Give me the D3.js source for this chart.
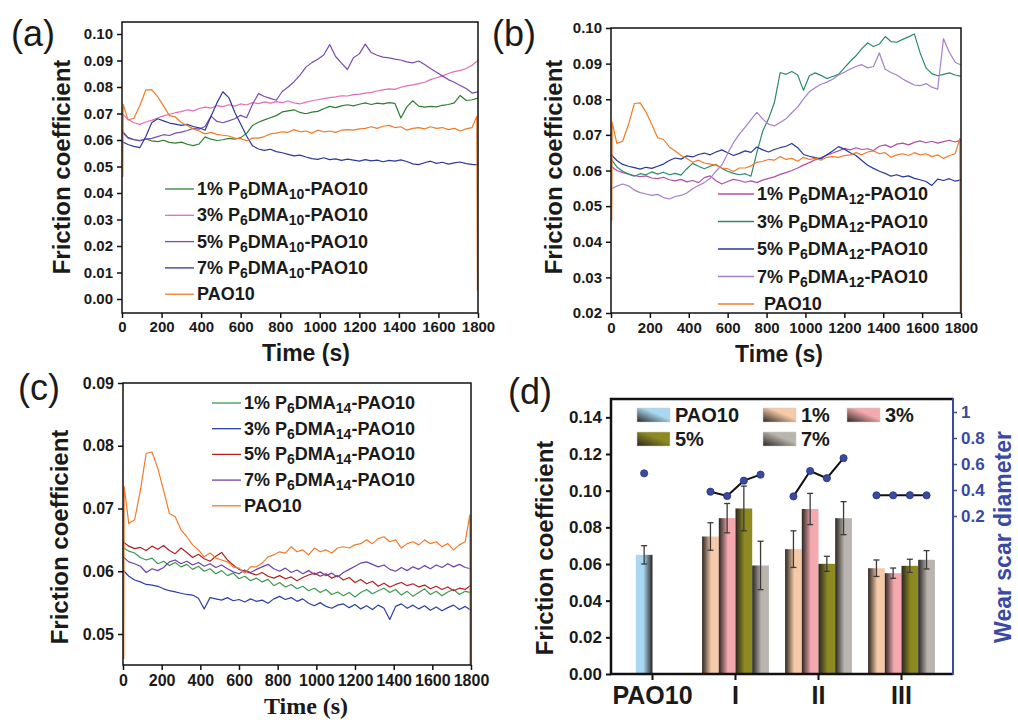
<!DOCTYPE html>
<html lang="en">
<head>
<meta charset="utf-8">
<title>Friction coefficient panels</title>
<script src="https://cdn.jsdelivr.net/npm/d3@7"></script>
<style>
    body { margin: 0; background: #fff; }
    svg { font-family: "Liberation Sans", Arial, sans-serif; }
</style>
</head>
<body>
<svg width="1018" height="722"></svg>
<script>
// ---- data ----
var t30 = [0,30,60,90,120,150,180,210,240,270,300,330,360,390,420,450,480,510,540,570,600,630,660,690,720,750,780,810,840,870,900,930,960,990,1020,1050,1080,1110,1140,1170,1200,1230,1260,1290,1320,1350,1380,1410,1440,1470,1500,1530,1560,1590,1620,1650,1680,1710,1740,1770,1800];
var tPao = [4,6,30,60,90,120,150,180,210,240,270,300,330,360,390,420,450,480,510,540,570,600,630,660,690,720,750,780,810,840,870,900,930,960,990,1020,1050,1080,1110,1140,1170,1200,1230,1260,1290,1320,1350,1380,1410,1440,1470,1500,1530,1560,1590,1620,1650,1680,1710,1740,1770,1794,1797];
var timeTicks = [0,200,400,600,800,1000,1200,1400,1600,1800];

var pao10 = [0.046,0.0735,0.0676,0.0682,0.0729,0.0788,0.0790,0.0764,0.0729,0.0692,0.0687,0.0666,0.0655,0.0642,0.0634,0.0623,0.0629,0.0621,0.0618,0.0615,0.0607,0.0605,0.0597,0.0607,0.0607,0.0613,0.0623,0.0626,0.0631,0.0629,0.0639,0.0631,0.0634,0.0626,0.0637,0.0631,0.0634,0.0629,0.0637,0.0639,0.0637,0.0642,0.0644,0.0650,0.0644,0.0652,0.0655,0.0647,0.0650,0.0637,0.0644,0.0647,0.0642,0.0650,0.0644,0.0647,0.0639,0.0644,0.0634,0.0642,0.0647,0.0690,0.003];

var dma10_1 = [0.0635,0.0610,0.0602,0.0598,0.0604,0.0597,0.0594,0.0599,0.0591,0.0588,0.0592,0.0584,0.0579,0.0585,0.0612,0.0603,0.0598,0.0601,0.0606,0.0603,0.0609,0.0625,0.0655,0.0667,0.0676,0.0684,0.0692,0.0706,0.0710,0.0714,0.0704,0.0699,0.0705,0.0708,0.0718,0.0727,0.0722,0.0729,0.0733,0.0729,0.0735,0.0740,0.0734,0.0739,0.0736,0.0741,0.0738,0.0683,0.0725,0.0748,0.0728,0.0724,0.0727,0.0725,0.0731,0.0734,0.0740,0.0768,0.0749,0.0752,0.0758];
var dma10_3 = [0.0700,0.0678,0.0665,0.0659,0.0668,0.0674,0.0683,0.0691,0.0697,0.0703,0.0707,0.0714,0.0710,0.0719,0.0724,0.0720,0.0730,0.0726,0.0733,0.0728,0.0736,0.0732,0.0741,0.0737,0.0744,0.0739,0.0745,0.0741,0.0747,0.0740,0.0736,0.0743,0.0748,0.0752,0.0756,0.0760,0.0763,0.0767,0.0766,0.0771,0.0773,0.0777,0.0780,0.0785,0.0789,0.0793,0.0791,0.0799,0.0804,0.0808,0.0813,0.0818,0.0828,0.0835,0.0842,0.0851,0.0858,0.0863,0.0870,0.0882,0.0900];
var dma10_5 = [0.0631,0.0607,0.0601,0.0597,0.0603,0.0606,0.0613,0.0620,0.0617,0.0626,0.0630,0.0636,0.0644,0.0641,0.0651,0.0690,0.0670,0.0665,0.0672,0.0680,0.0693,0.0684,0.0735,0.0775,0.0764,0.0757,0.0750,0.0783,0.0800,0.0820,0.0845,0.0875,0.0892,0.0905,0.0921,0.0960,0.0915,0.0890,0.0866,0.0910,0.0925,0.0962,0.0930,0.0920,0.0913,0.0910,0.0905,0.0902,0.0895,0.0891,0.0898,0.0885,0.0870,0.0856,0.0842,0.0828,0.0818,0.0806,0.0794,0.0777,0.0782];
var dma10_7 = [0.0594,0.0583,0.0576,0.0571,0.0612,0.0665,0.0680,0.0672,0.0664,0.0660,0.0655,0.0659,0.0651,0.0646,0.0637,0.0690,0.0740,0.0782,0.0760,0.0705,0.0660,0.0615,0.0578,0.0566,0.0561,0.0565,0.0556,0.0552,0.0546,0.0540,0.0543,0.0536,0.0530,0.0527,0.0533,0.0526,0.0529,0.0523,0.0528,0.0524,0.0520,0.0526,0.0521,0.0524,0.0518,0.0523,0.0520,0.0525,0.0519,0.0510,0.0507,0.0514,0.0520,0.0512,0.0516,0.0509,0.0514,0.0517,0.0511,0.0508,0.0506];

var dma12_1 = [0.0612,0.0600,0.0594,0.0590,0.0586,0.0583,0.0585,0.0579,0.0577,0.0581,0.0574,0.0571,0.0575,0.0568,0.0572,0.0566,0.0580,0.0585,0.0571,0.0562,0.0569,0.0575,0.0572,0.0567,0.0571,0.0566,0.0573,0.0578,0.0582,0.0589,0.0594,0.0600,0.0607,0.0615,0.0622,0.0630,0.0636,0.0643,0.0649,0.0655,0.0662,0.0658,0.0664,0.0659,0.0661,0.0656,0.0668,0.0672,0.0665,0.0674,0.0677,0.0672,0.0679,0.0683,0.0678,0.0682,0.0677,0.0681,0.0685,0.0680,0.0686];
var dma12_3 = [0.0632,0.0610,0.0598,0.0590,0.0584,0.0591,0.0588,0.0596,0.0590,0.0595,0.0588,0.0592,0.0587,0.0605,0.0620,0.0612,0.0605,0.0612,0.0617,0.0606,0.0598,0.0592,0.0588,0.0591,0.0584,0.0650,0.0710,0.0745,0.0790,0.0875,0.0870,0.0878,0.0868,0.0825,0.0866,0.0874,0.0867,0.0858,0.0864,0.0870,0.0888,0.0906,0.0922,0.0942,0.0958,0.0948,0.0955,0.0976,0.0962,0.0960,0.0968,0.0975,0.0983,0.0930,0.0888,0.0872,0.0866,0.0870,0.0874,0.0868,0.0864];
var dma12_5 = [0.0645,0.0628,0.0617,0.0612,0.0608,0.0604,0.0609,0.0606,0.0612,0.0618,0.0628,0.0635,0.0632,0.0641,0.0638,0.0645,0.0649,0.0644,0.0652,0.0658,0.0650,0.0642,0.0648,0.0655,0.0651,0.0666,0.0658,0.0652,0.0659,0.0664,0.0668,0.0676,0.0664,0.0645,0.0640,0.0636,0.0633,0.0644,0.0655,0.0667,0.0660,0.0650,0.0642,0.0628,0.0615,0.0606,0.0598,0.0592,0.0584,0.0588,0.0582,0.0585,0.0578,0.0574,0.0569,0.0558,0.0576,0.0572,0.0577,0.0570,0.0574];
var dma12_7 = [0.0548,0.0556,0.0562,0.0557,0.0545,0.0538,0.0534,0.0530,0.0533,0.0524,0.0520,0.0527,0.0530,0.0537,0.0549,0.0558,0.0566,0.0578,0.0598,0.0615,0.0648,0.0678,0.0702,0.0722,0.0743,0.0763,0.0745,0.0730,0.0725,0.0735,0.0745,0.0762,0.0778,0.0801,0.0821,0.0832,0.0842,0.0848,0.0856,0.0868,0.0876,0.0885,0.0892,0.0897,0.0888,0.0892,0.0930,0.0884,0.0875,0.0868,0.0857,0.0848,0.0840,0.0838,0.0844,0.0834,0.0828,0.0970,0.0932,0.0904,0.0896];

var dma14_1 = [0.0638,0.0632,0.0629,0.0622,0.0618,0.0621,0.0612,0.0616,0.0609,0.0614,0.0607,0.0611,0.0603,0.0608,0.0600,0.0604,0.0596,0.0601,0.0593,0.0597,0.0588,0.0592,0.0585,0.0589,0.0583,0.0587,0.0577,0.0582,0.0575,0.0579,0.0572,0.0576,0.0569,0.0573,0.0566,0.0571,0.0563,0.0567,0.0561,0.0566,0.0559,0.0566,0.0571,0.0564,0.0569,0.0573,0.0566,0.0571,0.0562,0.0568,0.0560,0.0566,0.0572,0.0563,0.0568,0.0561,0.0567,0.0571,0.0563,0.0568,0.0566];
var dma14_3 = [0.0602,0.0592,0.0586,0.0583,0.0579,0.0578,0.0576,0.0572,0.0569,0.0567,0.0565,0.0563,0.0562,0.0557,0.0540,0.0558,0.0556,0.0554,0.0558,0.0553,0.0555,0.0551,0.0556,0.0552,0.0554,0.0549,0.0556,0.0560,0.0555,0.0558,0.0552,0.0556,0.0549,0.0545,0.0550,0.0544,0.0541,0.0546,0.0548,0.0542,0.0547,0.0540,0.0545,0.0539,0.0546,0.0541,0.0523,0.0544,0.0548,0.0541,0.0546,0.0540,0.0545,0.0538,0.0543,0.0537,0.0542,0.0546,0.0539,0.0544,0.0538];
var dma14_5 = [0.0647,0.0640,0.0636,0.0638,0.0633,0.0640,0.0635,0.0641,0.0633,0.0628,0.0637,0.0630,0.0622,0.0627,0.0620,0.0616,0.0624,0.0630,0.0618,0.0610,0.0603,0.0600,0.0597,0.0594,0.0598,0.0592,0.0589,0.0593,0.0588,0.0591,0.0585,0.0590,0.0594,0.0597,0.0592,0.0596,0.0589,0.0593,0.0586,0.0590,0.0582,0.0587,0.0580,0.0584,0.0576,0.0581,0.0575,0.0579,0.0582,0.0577,0.0580,0.0575,0.0578,0.0572,0.0576,0.0571,0.0575,0.0569,0.0573,0.0571,0.0578];
var dma14_7 = [0.0623,0.0615,0.0612,0.0608,0.0598,0.0604,0.0601,0.0606,0.0615,0.0618,0.0612,0.0616,0.0610,0.0614,0.0608,0.0612,0.0606,0.0610,0.0604,0.0599,0.0596,0.0602,0.0598,0.0603,0.0607,0.0611,0.0604,0.0600,0.0605,0.0598,0.0602,0.0596,0.0601,0.0595,0.0599,0.0593,0.0597,0.0591,0.0598,0.0603,0.0608,0.0613,0.0615,0.0611,0.0607,0.0610,0.0603,0.0600,0.0606,0.0601,0.0607,0.0603,0.0609,0.0604,0.0610,0.0606,0.0612,0.0607,0.0611,0.0606,0.0604];

// panel (d)
var groups = ["PAO10", "I", "II", "III"];
var concs = ["1%", "3%", "5%", "7%"];
var paoFriction = 0.065, paoError = 0.005, paoWear = 0.528;
var frictionI   = [0.075, 0.085, 0.0903, 0.0592];
var errorI      = [0.0075, 0.008, 0.0122, 0.0132];
var frictionII  = [0.0681, 0.090, 0.0601, 0.085];
var errorII     = [0.010, 0.0085, 0.0041, 0.009];
var frictionIII = [0.0577, 0.055, 0.059, 0.0623];
var errorIII    = [0.0045, 0.0028, 0.0036, 0.005];
var wearI   = [0.387, 0.354, 0.472, 0.518];
var wearII  = [0.351, 0.546, 0.491, 0.645];
var wearIII = [0.359, 0.359, 0.360, 0.359];
var frictionTicks = [0, 0.02, 0.04, 0.06, 0.08, 0.10, 0.12, 0.14];
var wearTicks = [0.2, 0.4, 0.6, 0.8, 1];

// ---- drawing ----
var svg = d3.select("svg");
var defs = svg.append("defs");

function subLabel(text, conc, sub) {
    if (!conc) { text.text("PAO10"); return; }
    text.append("tspan").text(conc + " P");
    text.append("tspan").attr("font-size", 14).attr("dy", 4).text("6");
    text.append("tspan").attr("dy", -4).text("DMA");
    text.append("tspan").attr("font-size", 14).attr("dy", 4).text(sub);
    text.append("tspan").attr("dy", -4).text("-PAO10");
}

function linePanel(p) {
    var x = d3.scaleLinear().domain([0, 1800]).range([p.x0, p.x1]);
    var y = d3.scaleLinear().domain(p.yDomain).range(p.yRange);
    var g = svg.append("g");

    defs.append("clipPath").attr("id", "clip-" + p.id)
        .append("rect").attr("x", p.x0).attr("y", p.y0)
        .attr("width", p.x1 - p.x0).attr("height", p.y1 - p.y0);

    var line = d3.line().x(function (d) { return x(d[0]); }).y(function (d) { return y(d[1]); });
    p.series.forEach(function (s) {
        g.append("path")
            .datum(d3.zip(s.t, s.v))
            .attr("clip-path", "url(#clip-" + p.id + ")")
            .attr("d", line)
            .attr("fill", "none")
            .attr("stroke", s.color)
            .attr("stroke-width", 1.2)
            .attr("stroke-linejoin", "round");
    });

    g.append("rect")
        .attr("x", p.x0).attr("y", p.y0)
        .attr("width", p.x1 - p.x0).attr("height", p.y1 - p.y0)
        .attr("fill", "none").attr("stroke", "#111").attr("stroke-width", 1.5);

    var xa = g.append("g").attr("transform", "translate(0," + p.y1 + ")")
        .call(d3.axisBottom(x).tickValues(timeTicks).tickSize(5).tickPadding(p.xPad).tickFormat(d3.format("d")));
    var ya = g.append("g").attr("transform", "translate(" + p.x0 + ",0)")
        .call(d3.axisLeft(y).tickValues(p.yTicks).tickSize(5).tickPadding(4).tickFormat(d3.format(".2f")));
    [xa, ya].forEach(function (a) {
        a.select(".domain").remove();
        a.selectAll("line").attr("stroke", "#111").attr("stroke-width", 1.5);
        a.selectAll("text").attr("font-size", p.tickFont).attr("font-weight", "bold").attr("fill", "#1a1a1a")
            .attr("font-family", "'Liberation Sans', Arial, sans-serif");
    });

    // legend
    p.legend.forEach(function (e, i) {
        var yy = p.legY + i * p.legStep;
        g.append("line").attr("x1", p.legX0).attr("x2", p.legX1).attr("y1", yy).attr("y2", yy)
            .attr("stroke", e.color).attr("stroke-width", 1.3);
        var t = g.append("text").attr("x", e.conc ? p.legTX : p.legTX + (p.paoIndent || 0)).attr("y", yy + 6)
            .attr("font-size", 18).attr("font-weight", "bold").attr("fill", "#1a1a1a");
        subLabel(t, e.conc, p.sub);
    });

    // axis titles and panel letter
    g.append("text").attr("transform", "translate(" + p.yTitleX + "," + p.yTitleY + ") rotate(-90)")
        .attr("text-anchor", "middle").attr("font-size", 24).attr("font-weight", "bold").attr("fill", "#1a1a1a")
        .text("Friction coefficient");
    g.append("text").attr("x", p.xTitleX).attr("y", p.xTitleY)
        .attr("text-anchor", "middle").attr("font-size", p.xTitleFont).attr("font-weight", "bold").attr("fill", "#1a1a1a")
        .attr("font-family", p.xTitleFamily)
        .text("Time (s)");
    g.append("text").attr("x", p.letterX).attr("y", p.letterY)
        .attr("font-size", 36).attr("fill", "#1a1a1a").text(p.letter);
}

var orange = "#f07c2a";

linePanel({
    id: "a", letter: "(a)", letterX: 11, letterY: 46,
    x0: 122, x1: 478, y0: 22, y1: 313,
    yDomain: [0, 0.10], yRange: [299, 34], yTicks: [0,0.01,0.02,0.03,0.04,0.05,0.06,0.07,0.08,0.09,0.10],
    tickFont: 15, xPad: 3,
    series: [
        { t: t30, v: dma10_1, color: "#2f7d32" },
        { t: t30, v: dma10_3, color: "#e46cb6" },
        { t: t30, v: dma10_5, color: "#7b4caf" },
        { t: t30, v: dma10_7, color: "#2d3a9c" },
        { t: tPao, v: pao10, color: orange }
    ],
    sub: "10",
    legend: [
        { conc: "1%", color: "#2f7d32" }, { conc: "3%", color: "#e46cb6" },
        { conc: "5%", color: "#7b4caf" }, { conc: "7%", color: "#2d3a9c" }, { conc: null, color: orange }
    ],
    legX0: 165, legX1: 194, legTX: 197, legY: 189, legStep: 26.3,
    yTitleX: 70, yTitleY: 167, xTitleX: 306, xTitleY: 361, xTitleFont: 23,
    xTitleFamily: "'Liberation Sans', Arial, sans-serif"
});

linePanel({
    id: "b", letter: "(b)", letterX: 492, letterY: 46,
    x0: 611, x1: 961, y0: 28, y1: 313,
    yDomain: [0.02, 0.10], yRange: [313, 28], yTicks: [0.02,0.03,0.04,0.05,0.06,0.07,0.08,0.09,0.10],
    tickFont: 15, xPad: 4,
    series: [
        { t: t30, v: dma12_1, color: "#b14fa6" },
        { t: t30, v: dma12_3, color: "#2b8a6e" },
        { t: t30, v: dma12_5, color: "#27389a" },
        { t: t30, v: dma12_7, color: "#a47fce" },
        { t: tPao, v: pao10, color: orange }
    ],
    sub: "12",
    legend: [
        { conc: "1%", color: "#b14fa6" }, { conc: "3%", color: "#2b8a6e" },
        { conc: "5%", color: "#27389a" }, { conc: "7%", color: "#a47fce" }, { conc: null, color: orange }
    ],
    paoIndent: 7,
    legX0: 718, legX1: 754, legTX: 757, legY: 194, legStep: 27.5,
    yTitleX: 562, yTitleY: 167, xTitleX: 779, xTitleY: 362, xTitleFont: 23,
    xTitleFamily: "'Liberation Sans', Arial, sans-serif"
});

linePanel({
    id: "c", letter: "(c)", letterX: 18, letterY: 400,
    x0: 123, x1: 471, y0: 383, y1: 665,
    yDomain: [0.05, 0.09], yRange: [634, 383], yTicks: [0.05,0.06,0.07,0.08,0.09],
    tickFont: 16, xPad: 5,
    series: [
        { t: t30, v: dma14_1, color: "#3a9a52" },
        { t: t30, v: dma14_3, color: "#2d40a2" },
        { t: t30, v: dma14_5, color: "#b22222" },
        { t: t30, v: dma14_7, color: "#6f42aa" },
        { t: tPao, v: pao10, color: orange }
    ],
    sub: "14",
    legend: [
        { conc: "1%", color: "#3a9a52" }, { conc: "3%", color: "#2d40a2" },
        { conc: "5%", color: "#b22222" }, { conc: "7%", color: "#6f42aa" }, { conc: null, color: orange }
    ],
    legX0: 212, legX1: 241, legTX: 244, legY: 403, legStep: 25.7,
    yTitleX: 68, yTitleY: 537, xTitleX: 306, xTitleY: 714, xTitleFont: 24,
    xTitleFamily: "'Liberation Serif', 'Times New Roman', serif"
});

// ---- panel (d) ----
(function () {
    var L = 611, R = 953, T = 399, B = 674;
    var navy = "#3a4aa2";
    var x = d3.scaleBand().domain(groups).range([L, 943]);
    var xs = d3.scaleBand().domain(concs).range([-33.4, 33.4]);
    var y = d3.scaleLinear().domain([0, 0.15]).range([B, T]);
    var yR = d3.scaleLinear().domain([0, 1]).range([542, 412]);
    var g = svg.append("g");
    var fills = { "PAO10": "#a9d9f2", "1%": "#f6caa8", "3%": "#f4a9af", "5%": "#8e8a22", "7%": "#bab4ae" };

    Object.keys(fills).forEach(function (k, i) {
        var gr = defs.append("linearGradient").attr("id", "grad" + i).attr("x1", 0).attr("x2", 1).attr("y1", 0).attr("y2", 0);
        gr.append("stop").attr("offset", 0).attr("stop-color", "#2a2522");
        gr.append("stop").attr("offset", 0.55).attr("stop-color", fills[k]);
        gr.append("stop").attr("offset", 1).attr("stop-color", fills[k]);
        var gd = defs.append("linearGradient").attr("id", "gradR" + i).attr("x1", 0).attr("x2", 1).attr("y1", 0).attr("y2", 0);
        gd.append("stop").attr("offset", 0).attr("stop-color", fills[k]);
        gd.append("stop").attr("offset", 0.45).attr("stop-color", fills[k]);
        gd.append("stop").attr("offset", 1).attr("stop-color", "#2a2522");
        var gs = defs.append("linearGradient").attr("id", "gradS" + i).attr("x1", 0).attr("x2", 1).attr("y1", 1).attr("y2", 0);
        gs.append("stop").attr("offset", 0).attr("stop-color", "#2a2522");
        gs.append("stop").attr("offset", 0.6).attr("stop-color", fills[k]);
        gs.append("stop").attr("offset", 1).attr("stop-color", fills[k]);
    });
    var keyIdx = function (k) { return Object.keys(fills).indexOf(k); };

    var bars = [{ g: "PAO10", c: "3%", key: "PAO10", v: paoFriction, e: paoError, w: paoWear }];
    [[frictionI, errorI, wearI, "I"], [frictionII, errorII, wearII, "II"], [frictionIII, errorIII, wearIII, "III"]]
        .forEach(function (set) {
            concs.forEach(function (c, i) {
                bars.push({ g: set[3], c: c, key: c, v: set[0][i], e: set[1][i], w: set[2][i] });
            });
        });
    var cx = function (d) { return x(d.g) + x.bandwidth() / 2 + xs(d.c) + xs.bandwidth() / 2; };

    g.selectAll("rect.bar").data(bars).enter().append("rect")
        .attr("class", "bar")
        .attr("x", function (d) { return x(d.g) + x.bandwidth() / 2 + xs(d.c); })
        .attr("width", xs.bandwidth())
        .attr("y", function (d) { return y(d.v); })
        .attr("height", function (d) { return B - y(d.v); })
        .attr("fill", function (d) { return "url(#" + (d.key === "PAO10" ? "gradR" : "grad") + keyIdx(d.key) + ")"; });

    var eb = g.selectAll("g.err").data(bars).enter().append("g").attr("class", "err")
        .attr("stroke", "#3b3b3b").attr("stroke-width", 1.3);
    eb.append("line").attr("x1", cx).attr("x2", cx)
        .attr("y1", function (d) { return y(d.v - d.e); }).attr("y2", function (d) { return y(d.v + d.e); });
    eb.append("line").attr("x1", function (d) { return cx(d) - 3; }).attr("x2", function (d) { return cx(d) + 3; })
        .attr("y1", function (d) { return y(d.v + d.e); }).attr("y2", function (d) { return y(d.v + d.e); });
    eb.append("line").attr("x1", function (d) { return cx(d) - 3; }).attr("x2", function (d) { return cx(d) + 3; })
        .attr("y1", function (d) { return y(d.v - d.e); }).attr("y2", function (d) { return y(d.v - d.e); });

    // wear scar lines + dots
    var wl = d3.line().x(cx).y(function (d) { return yR(d.w); });
    ["I", "II", "III"].forEach(function (gn) {
        g.append("path").datum(bars.filter(function (d) { return d.g === gn; }))
            .attr("d", wl).attr("fill", "none").attr("stroke", "#111").attr("stroke-width", 2);
    });
    g.selectAll("circle").data(bars).enter().append("circle")
        .attr("cx", cx).attr("cy", function (d) { return yR(d.w); }).attr("r", 3.6)
        .attr("fill", navy).attr("stroke", "#27337e").attr("stroke-width", 0.8);

    // frame
    g.append("path").attr("d", "M" + R + "," + T + "H" + L + "V" + B + "H" + R)
        .attr("fill", "none").attr("stroke", "#111").attr("stroke-width", 2.5);
    g.append("line").attr("x1", R).attr("x2", R).attr("y1", T - 1).attr("y2", B + 1)
        .attr("stroke", navy).attr("stroke-width", 2);

    var ya = g.append("g").attr("transform", "translate(" + L + ",0)")
        .call(d3.axisLeft(y).tickValues(frictionTicks).tickSize(5).tickPadding(4).tickFormat(d3.format(".2f")));
    var xa = g.append("g").attr("transform", "translate(0," + B + ")")
        .call(d3.axisBottom(x).tickSize(6).tickPadding(6));
    var yra = g.append("g").attr("transform", "translate(" + R + ",0)")
        .call(d3.axisRight(yR).tickValues(wearTicks).tickSize(4).tickPadding(4).tickFormat(function (d) { return d === 1 ? "1" : d3.format(".1f")(d); }));
    [ya, xa, yra].forEach(function (a) { a.select(".domain").remove(); });
    ya.selectAll("line").attr("stroke", "#111").attr("stroke-width", 2);
    xa.selectAll("line").attr("stroke", "#111").attr("stroke-width", 2);
    yra.selectAll("line").attr("stroke", navy).attr("stroke-width", 1.5);
    ya.selectAll("text").attr("font-size", 17).attr("font-weight", "bold").attr("fill", "#1a1a1a")
        .attr("font-family", "'Liberation Sans', Arial, sans-serif");
    xa.selectAll("text").attr("font-size", 25).attr("font-weight", "bold").attr("fill", "#1a1a1a")
        .attr("font-family", "'Liberation Sans', Arial, sans-serif");
    yra.selectAll("text").attr("font-size", 17).attr("font-weight", "bold").attr("fill", navy)
        .attr("font-family", "'Liberation Sans', Arial, sans-serif");

    // legend
    var legItems = [
        { key: "PAO10", label: "PAO10", x: 637, y: 408 }, { key: "1%", label: "1%", x: 763, y: 408 },
        { key: "3%", label: "3%", x: 847, y: 408 }, { key: "5%", label: "5%", x: 637, y: 432 },
        { key: "7%", label: "7%", x: 763, y: 432 }
    ];
    legItems.forEach(function (d) {
        g.append("rect").attr("x", d.x).attr("y", d.y).attr("width", 33).attr("height", 14)
            .attr("fill", "url(#gradS" + keyIdx(d.key) + ")").attr("stroke", "#ccc").attr("stroke-width", 0.5);
        g.append("text").attr("x", d.x + 38).attr("y", d.y + 14).attr("font-size", 20).attr("font-weight", "bold")
            .attr("fill", "#1a1a1a").text(d.label);
    });

    g.append("text").attr("transform", "translate(553,548) rotate(-90)").attr("text-anchor", "middle")
        .attr("font-size", 24).attr("font-weight", "bold").attr("fill", "#1a1a1a").text("Friction coefficient");
    g.append("text").attr("transform", "translate(1011,537) rotate(-90)").attr("text-anchor", "middle")
        .attr("font-size", 23).attr("font-weight", "bold").attr("fill", navy).text("Wear scar diameter");
    g.append("text").attr("x", 508).attr("y", 404).attr("font-size", 36).attr("fill", "#1a1a1a").text("(d)");
})();
</script>
</body>
</html>
